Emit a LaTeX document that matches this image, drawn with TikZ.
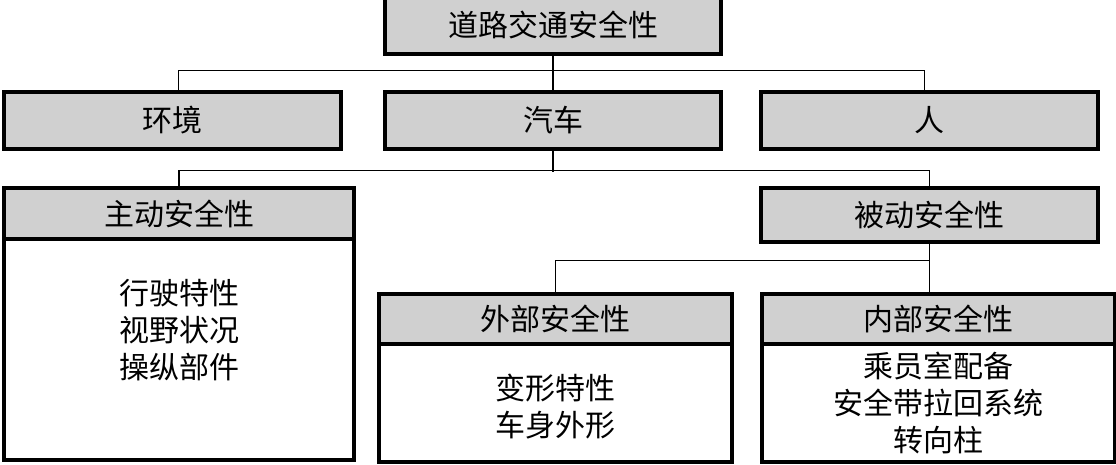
\documentclass[tikz,border=0pt]{standalone}
\usepackage{fontspec}
\newfontfamily\cjk{Noto Sans CJK SC}
\definecolor{hdrgray}{RGB}{208,208,208}
\tikzset{
  box/.style={draw=black, line width=3.2pt, rectangle, inner sep=0pt, font=\cjk\fontsize{30pt}{37pt}\selectfont},
  hdr/.style={box, fill=hdrgray},
  bodyb/.style={box, fill=white},
  txt/.style={inner sep=0pt, align=center, font=\cjk\fontsize{30pt}{37pt}\selectfont},
  conn/.style={draw=black, line width=1.8pt}
}
\begin{document}
\begin{tikzpicture}[x=1pt, y=-1pt]
\useasboundingbox (0,0) rectangle (1116,464);
% row 1
\node[hdr, minimum width=336pt, minimum height=58pt] (top) at (553,25) {道路交通安全性};
% row 2
\node[hdr, minimum width=337pt, minimum height=57pt] (env) at (172.5,120.5) {环境};
\node[hdr, minimum width=336pt, minimum height=57pt] (car) at (553,120.5) {汽车};
\node[hdr, minimum width=337pt, minimum height=57pt] (ren) at (929.5,120.5) {人};
% active safety
\node[bodyb, minimum width=350pt, minimum height=221pt] (zdb) at (179,349.5) {};
\node[hdr, minimum width=350pt, minimum height=51pt] (zd) at (179,213.5) {主动安全性};
\node[txt] (zdt) at (179,330) {行驶特性\\视野状况\\操纵部件};
% passive safety
\node[hdr, minimum width=337pt, minimum height=54pt] (bd) at (929.5,215) {被动安全性};
% exterior
\node[bodyb, minimum width=353pt, minimum height=118pt] (wbb) at (555.5,403) {};
\node[hdr, minimum width=353pt, minimum height=50pt] (wb) at (555.5,319) {外部安全性};
\node[txt] (wbt) at (555.5,407) {变形特性\\车身外形};
% interior
\node[bodyb, minimum width=353pt, minimum height=118pt] (nbb) at (938.5,403) {};
\node[hdr, minimum width=353pt, minimum height=50pt] (nb) at (938.5,319) {内部安全性};
\node[txt] (nbt) at (938.5,403) {乘员室配备\\安全带拉回系统\\转向柱};
% connectors
\draw[conn] (top.south) -- (car.north);
\draw[conn] ([xshift=6pt]env.north) -- ++(0,-20) -| ([xshift=-5pt]ren.north);
\draw[conn] (car.south) -- (car.south |- 0,172);
\draw[conn] (zd.north) -- ++(0,-16) -| (bd.north);
\draw[conn] (bd.south) -- (bd.south |- nb.north);
\draw[conn] (wb.north) -- ++(0,-32) -| (bd.south);
\end{tikzpicture}
\end{document}
